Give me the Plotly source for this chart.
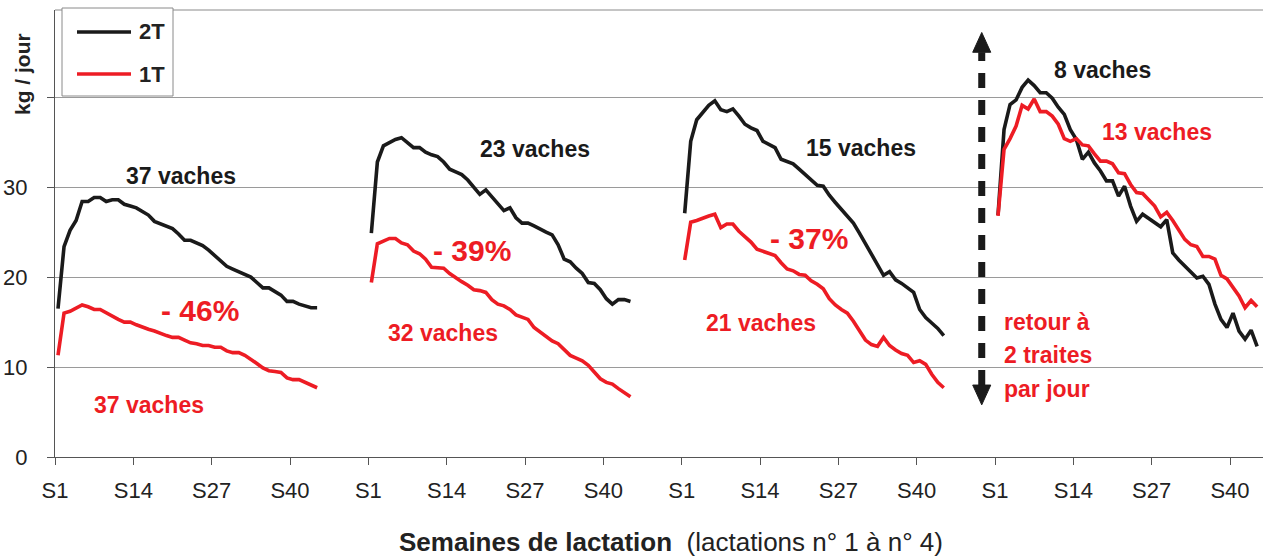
import plotly.graph_objects as go

# ---------------- data (kg / jour), weeks S1..S44 per lactation panel ----------------
weeks = list(range(1, 45))
panels = ["Lactation 1", "Lactation 2", "Lactation 3", "Lactation 4"]

t2_l1 = [16.5, 23.4, 25.2, 26.3, 28.4, 28.4, 28.85, 28.85, 28.4, 28.6, 28.6, 28.1, 27.9, 27.7, 27.3,
         26.9, 26.2, 25.9, 25.7, 25.4, 24.8, 24.1, 24.1, 23.8, 23.5, 23.0, 22.4, 21.9, 21.2, 20.9,
         20.6, 20.4, 20.0, 19.4, 18.8, 18.8, 18.4, 18.0, 17.3, 17.3, 17.0, 16.8, 16.6, 16.6]
t1_l1 = [11.3, 16.0, 16.2, 16.5, 16.9, 16.7, 16.4, 16.4, 16.0, 15.7, 15.3, 15.0, 15.0, 14.7, 14.4,
         14.2, 14.0, 13.7, 13.5, 13.3, 13.3, 13.0, 12.7, 12.6, 12.4, 12.4, 12.2, 12.2, 11.8, 11.6,
         11.6, 11.3, 10.9, 10.4, 9.9, 9.6, 9.5, 9.4, 8.8, 8.6, 8.6, 8.3, 8.0, 7.7]

t2_l2 = [24.9, 32.8, 34.6, 35.0, 35.3, 35.5, 35.0, 34.4, 34.4, 33.9, 33.6, 33.4, 32.8, 32.0, 31.7,
         31.4, 30.8, 30.0, 29.2, 29.7, 28.9, 28.2, 27.4, 27.7, 26.6, 26.0, 26.0, 25.7, 25.3, 25.0,
         24.7, 23.6, 22.0, 21.7, 21.0, 20.4, 19.4, 19.3, 18.6, 17.6, 17.0, 17.5, 17.5, 17.3]
t1_l2 = [19.4, 23.7, 24.0, 24.3, 24.3, 23.8, 23.6, 22.9, 22.6, 22.0, 21.1, 21.0, 21.0, 20.4, 19.9,
         19.5, 19.1, 18.6, 18.5, 18.3, 17.5, 17.0, 16.8, 16.4, 15.8, 15.5, 15.3, 14.4, 13.9, 13.3,
         12.9, 12.6, 11.9, 11.3, 11.0, 10.7, 10.2, 9.5, 8.7, 8.3, 8.1, 7.6, 7.1, 6.7]

t2_l3 = [27.1, 35.1, 37.5, 38.3, 39.1, 39.6, 38.6, 38.4, 38.7, 37.9, 37.0, 36.6, 36.3, 35.1, 34.7,
         34.4, 33.1, 32.8, 32.6, 32.0, 31.4, 30.7, 30.2, 30.1, 29.1, 28.3, 27.5, 26.8, 26.0, 24.9,
         23.7, 22.5, 21.5, 20.2, 20.6, 19.7, 19.3, 18.8, 18.3, 16.4, 15.5, 14.9, 14.3, 13.5]
t1_l3 = [21.9, 26.1, 26.3, 26.6, 26.8, 27.0, 25.5, 25.9, 25.9, 25.1, 24.5, 23.9, 23.1, 22.9, 22.7,
         22.4, 21.6, 20.9, 20.7, 20.3, 20.2, 19.6, 19.2, 18.7, 17.6, 16.9, 16.4, 16.0, 15.1, 14.0,
         13.0, 12.5, 12.3, 13.3, 12.4, 11.9, 11.5, 11.3, 10.5, 10.7, 10.3, 9.2, 8.3, 7.7]

t2_l4 = [26.9, 36.4, 39.2, 39.7, 41.1, 41.9, 41.3, 40.5, 40.5, 39.9, 38.9, 38.1, 36.4, 35.3, 33.1,
         33.9, 32.7, 31.8, 30.7, 30.7, 29.0, 30.1, 27.9, 26.2, 27.0, 26.5, 26.0, 25.6, 26.4, 22.7,
         21.9, 21.2, 20.6, 19.9, 20.1, 19.2, 17.0, 15.3, 14.4, 16.0, 14.0, 13.1, 14.1, 12.3]
t1_l4 = [26.8, 34.2, 35.4, 36.8, 39.1, 38.7, 39.8, 38.4, 38.4, 37.9, 37.0, 35.4, 35.1, 35.4, 34.7,
         34.6, 33.7, 32.9, 32.9, 32.6, 31.6, 31.5, 30.3, 29.4, 29.3, 28.6, 27.9, 26.7, 27.2, 26.3,
         25.3, 24.2, 23.6, 23.4, 22.3, 22.3, 22.0, 20.2, 19.8, 18.9, 17.9, 16.6, 17.4, 16.7]

series_2T = [t2_l1, t2_l2, t2_l3, t2_l4]
series_1T = [t1_l1, t1_l2, t1_l3, t1_l4]

tick_weeks = [1, 14, 27, 40]
tick_labels = ["S1", "S14", "S27", "S40"]
weeks_per_panel = 52

y_ticks = [0, 10, 20, 30, 40]
y_ticktext = ["0", "10", "20", "30", ""]

BLACK = "#1a1a1a"
RED = "#ed1c24"
FONT = "Liberation Sans, Arial, sans-serif"

# ---------------- build continuous x positions ----------------
def build(series):
    xs, ys = [], []
    for p, vals in enumerate(series):
        for w, v in zip(weeks, vals):
            xs.append(weeks_per_panel * p + w - 0.5)
            ys.append(v)
        xs.append(None)
        ys.append(None)
    return xs, ys

fig = go.Figure()
x2, y2 = build(series_2T)
x1, y1 = build(series_1T)
fig.add_trace(go.Scatter(x=x2, y=y2, mode="lines", name="2T",
                         line=dict(color=BLACK, width=3.6), connectgaps=False, showlegend=False))
fig.add_trace(go.Scatter(x=x1, y=y1, mode="lines", name="1T",
                         line=dict(color=RED, width=3.6), connectgaps=False, showlegend=False))

tickvals, ticktext = [], []
for p in range(len(panels)):
    for w, lab in zip(tick_weeks, tick_labels):
        tickvals.append(weeks_per_panel * p + w - 1)
        ticktext.append(lab)

# figure fills the whole window (body margin removed in post_script)
W, H = 1263, 557
REF_L, REF_T, REF_B = 55, 10, 457          # plot area in window pixels
ML = REF_L
MT = REF_T
MB = H - REF_B
MR = 0
pw = W - ML - MR
ph = H - MT - MB
px_per_unit = (1230 - 55) / 195.0
x_max = pw / px_per_unit

fig.update_layout(
    width=W, height=H,
    margin=dict(l=ML, r=MR, t=MT, b=MB, pad=0, autoexpand=False),
    paper_bgcolor="white", plot_bgcolor="white",
    font=dict(family=FONT, color="#222"),
    showlegend=False,
    xaxis=dict(range=[0, x_max], tickvals=tickvals, ticktext=ticktext, automargin=False,
               showgrid=False, zeroline=False, showline=True, linecolor="#555", linewidth=1,
               ticks="outside", ticklen=7, tickcolor="#555", tickwidth=1,
               tickfont=dict(size=22, color="#222", family=FONT), ticklabelstandoff=7),
    yaxis=dict(range=[0, 49.7], tickvals=y_ticks, ticktext=y_ticktext, automargin=False,
               showgrid=True, gridcolor="#9a9a9a", gridwidth=1, zeroline=False,
               showline=True, linecolor="#555", linewidth=1,
               ticks="outside", ticklen=7, tickcolor="#555", tickwidth=1,
               tickfont=dict(size=22, color="#222", family=FONT), ticklabelstandoff=15),
)

def pxx(px):
    return (px - REF_L) / pw

def pxy(py):
    return (REF_B - py) / ph

shapes = []
# top border of plot area
shapes.append(dict(type="line", xref="paper", yref="paper", x0=0, x1=1, y0=1, y1=1,
                   line=dict(color="#8a8a8a", width=1), layer="above"))
# manual legend box
shapes.append(dict(type="rect", xref="paper", yref="paper", x0=pxx(62), x1=pxx(173),
                   y0=pxy(96), y1=pxy(8), fillcolor="white",
                   line=dict(color="#8a8a8a", width=1), layer="above"))
shapes.append(dict(type="line", xref="paper", yref="paper", x0=pxx(77), x1=pxx(131),
                   y0=pxy(32), y1=pxy(32), line=dict(color=BLACK, width=3.6), layer="above"))
shapes.append(dict(type="line", xref="paper", yref="paper", x0=pxx(77), x1=pxx(131),
                   y0=pxy(74), y1=pxy(74), line=dict(color=RED, width=3.6), layer="above"))

# dashed double arrow (return to 2 milkings)
ax = 153.8
shapes.append(dict(type="line", xref="x", yref="y", x0=ax, x1=ax, y0=8.0, y1=45.0,
                   line=dict(color=BLACK, width=7, dash="15px,12px"), layer="above"))
hw = 1.5
shapes.append(dict(type="path", xref="x", yref="y",
                   path=f"M {ax-hw},45.0 L {ax+hw},45.0 L {ax},47.2 Z",
                   fillcolor=BLACK, line=dict(color=BLACK, width=1), layer="above"))
shapes.append(dict(type="path", xref="x", yref="y",
                   path=f"M {ax-hw},8.0 L {ax+hw},8.0 L {ax},5.8 Z",
                   fillcolor=BLACK, line=dict(color=BLACK, width=1), layer="above"))
fig.update_layout(shapes=shapes)

def ann(text, x, y, color, size, xanchor="center", xref="x", yref="y", angle=0):
    fig.add_annotation(text=text, x=x, y=y, xref=xref, yref=yref, showarrow=False,
                       xanchor=xanchor, yanchor="middle", textangle=angle,
                       font=dict(family=FONT, size=size, color=color))

# legend text
ann("<b>2T</b>", pxx(137), pxy(32), "#222", 22, xanchor="left", xref="paper", yref="paper")
ann("<b>1T</b>", pxx(137), pxy(74), "#222", 22, xanchor="left", xref="paper", yref="paper")

# panel labels
ann("<b>37 vaches</b>", 20.9, 31.2, BLACK, 23)
ann("<b>- 46%</b>", 24.1, 16.3, RED, 30)
ann("<b>37 vaches</b>", 15.6, 5.8, RED, 23)
ann("<b>23 vaches</b>", 79.7, 34.3, BLACK, 23)
ann("<b>- 39%</b>", 69.2, 23.0, RED, 30)
ann("<b>32 vaches</b>", 64.4, 13.8, RED, 23)
ann("<b>15 vaches</b>", 133.8, 34.4, BLACK, 23)
ann("<b>- 37%</b>", 125.1, 24.3, RED, 30)
ann("<b>21 vaches</b>", 117.2, 14.9, RED, 23)
ann("<b>8 vaches</b>", 173.9, 43.0, BLACK, 23)
ann("<b>13 vaches</b>", 182.9, 36.1, RED, 23)
ann("<b>retour à</b>", 157.2, 15.0, RED, 23, xanchor="left")
ann("<b>2 traites</b>", 157.2, 11.3, RED, 23, xanchor="left")
ann("<b>par jour</b>", 157.2, 7.6, RED, 23, xanchor="left")

# axis titles
ann("<b>kg / jour</b>", pxx(22), pxy(74), "#222", 21, xref="paper", yref="paper", angle=-90)
ann("<b>Semaines de lactation</b>  (lactations n° 1 à n° 4)", pxx(671), pxy(542), "#222", 26,
    xref="paper", yref="paper")

fig.write_html("out.html",
               config={"displayModeBar": False},
               post_script="document.body.style.margin='0';document.body.style.overflow='hidden';")
